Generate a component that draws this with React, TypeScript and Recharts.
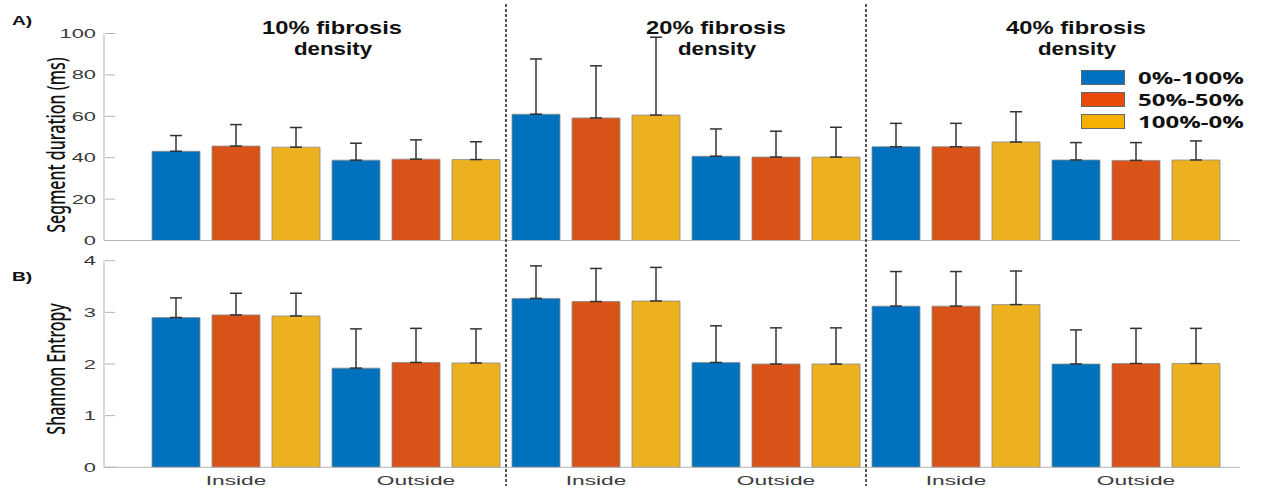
import React from 'react'
import { BarChart, Bar, XAxis, YAxis, ErrorBar, Legend } from 'recharts'

// categories: region x fibrosis density (10%, 20%, 40%)
const regions = ['Inside', 'Outside', 'Inside', 'Outside', 'Inside', 'Outside']
const densityTitles = ['10% fibrosis', '20% fibrosis', '40% fibrosis']
const seriesNames = ['0%-100%', '50%-50%', '100%-0%']

// A) segment duration (ms), mean and upper error
const durBlue = [43.1, 38.8, 61.0, 40.7, 45.3, 38.9]
const durOrange = [45.6, 39.3, 59.2, 40.3, 45.3, 38.7]
const durYellow = [45.1, 39.1, 60.6, 40.3, 47.6, 38.9]
const durErrBlue = [7.6, 8.2, 26.7, 13.2, 11.3, 8.4]
const durErrOrange = [10.4, 9.3, 25.2, 12.5, 11.3, 8.6]
const durErrYellow = [9.5, 8.6, 37.6, 14.4, 14.6, 9.2]

// B) Shannon entropy, mean and upper error
const entBlue = [2.9, 1.92, 3.27, 2.03, 3.12, 2.0]
const entOrange = [2.95, 2.03, 3.21, 2.0, 3.12, 2.01]
const entYellow = [2.93, 2.02, 3.22, 2.0, 3.15, 2.01]
const entErrBlue = [0.38, 0.76, 0.63, 0.71, 0.67, 0.66]
const entErrOrange = [0.42, 0.66, 0.64, 0.7, 0.67, 0.68]
const entErrYellow = [0.44, 0.66, 0.65, 0.7, 0.65, 0.68]

const durTicks = [0, 20, 40, 60, 80, 100]
const entTicks = [0, 1, 2, 3, 4]

const barColors = ['#0072BD', '#D95319', '#EDB120']
const legendColors = ['#0070C0', '#E84A0A', '#F5B000']

const durData = regions.map((region, i) => ({
  key: `${region}-${i}`,
  region,
  a: durBlue[i],
  b: durOrange[i],
  c: durYellow[i],
  ea: [0, durErrBlue[i]],
  eb: [0, durErrOrange[i]],
  ec: [0, durErrYellow[i]],
}))

const entData = regions.map((region, i) => ({
  key: `${region}-${i}`,
  region,
  a: entBlue[i],
  b: entOrange[i],
  c: entYellow[i],
  ea: [0, entErrBlue[i]],
  eb: [0, entErrOrange[i]],
  ec: [0, entErrYellow[i]],
}))

// layout
const W = 1261
const AXIS_W = 104
const MARGIN_R = 21
const PAD_L = 42
const PAD_R = 14
const BAND = (W - AXIS_W - MARGIN_R - PAD_L - PAD_R) / regions.length
const titleX = [332, 716, 1076]
const helv = "'Liberation Sans', Arial, Helvetica, sans-serif"

const YTick = (props: any) => {
  const { x, y, payload } = props
  return (
    <g>
      <line x1={x + 9} x2={x + 19} y1={y} y2={y} stroke="#b5b5b5" />
      <g transform={`translate(${x},${y}) scale(1.75,1)`}>
        <text textAnchor="end" dy="0.36em" fontSize={12.5} fill="#3a3a3a" fontFamily={helv}>
          {payload.value}
        </text>
      </g>
    </g>
  )
}

const XTick = (props: any) => {
  const { x, y, index } = props
  return (
    <g transform={`translate(${x},${y}) scale(1.75,1)`}>
      <text textAnchor="middle" dy="0.71em" fontSize={13} fill="#3a3a3a" fontFamily={helv}>
        {regions[index]}
      </text>
    </g>
  )
}

const LegendBox = ({ payload }: any) => (
  <div style={{ fontFamily: "'Open Sans', sans-serif", fontWeight: 700 }}>
    {(payload || []).map((entry: any) => (
      <div key={entry.value} style={{ display: 'flex', alignItems: 'center', height: 22 }}>
        <span
          style={{
            width: 44,
            height: 15,
            background: legendColors[seriesNames.indexOf(entry.value)],
            border: '1px solid #666',
            boxSizing: 'border-box',
            display: 'inline-block',
          }}
        />
        <span
          style={{
            marginLeft: 13,
            fontSize: 16,
            lineHeight: '22px',
            color: '#111',
            display: 'inline-block',
            transform: 'scaleX(1.5)',
            transformOrigin: 'left center',
            whiteSpace: 'nowrap',
          }}
        >
          {entry.value}
        </span>
      </div>
    ))}
  </div>
)

function bars(keys: string[], errKeys: string[]) {
  return keys.map((k, i) => (
    <Bar
      key={k}
      dataKey={k}
      name={seriesNames[i]}
      fill={barColors[i]}
      stroke="#8c8c8c"
      strokeWidth={0.8}
      barSize={48}
      isAnimationActive={false}
    >
      <ErrorBar dataKey={errKeys[i]} width={6} stroke="#333" strokeWidth={1.5} />
    </Bar>
  ))
}

export default function App() {
  const dividers = [1, 2].map(g => AXIS_W + PAD_L + BAND * 2 * g)
  return (
    <div style={{ position: 'absolute', left: 0, top: 0, width: W, height: 489, background: '#fff' }}>
      <div style={{ position: 'absolute', left: 0, top: 0 }}>
        <BarChart
          width={W}
          height={262}
          data={durData}
          barGap={12}
          margin={{ top: 33.5, right: MARGIN_R, left: 0, bottom: 0 }}
        >
          <XAxis
            dataKey="key"
            height={21.5}
            tick={false}
            tickLine={false}
            stroke="#b5b5b5"
            padding={{ left: PAD_L, right: PAD_R }}
          />
          <YAxis
            width={AXIS_W}
            domain={[0, 100]}
            ticks={durTicks}
            tick={<YTick />}
            tickLine={false}
            stroke="#b5b5b5"
          />
          <Legend
            layout="vertical"
            align="center"
            verticalAlign="middle"
            itemSorter={(item: any) => seriesNames.indexOf(item.value)}
            content={<LegendBox />}
            wrapperStyle={{ position: 'absolute', left: 1081, top: 66.5, width: 180 }}
          />
          {bars(['a', 'b', 'c'], ['ea', 'eb', 'ec'])}
        </BarChart>
      </div>
      <div style={{ position: 'absolute', left: 0, top: 245 }}>
        <BarChart
          width={W}
          height={244}
          data={entData}
          barGap={12}
          margin={{ top: 15.7, right: MARGIN_R, left: 0, bottom: 0 }}
        >
          <XAxis
            dataKey="key"
            height={21.7}
            tick={<XTick />}
            tickLine={false}
            stroke="#b5b5b5"
            padding={{ left: PAD_L, right: PAD_R }}
          />
          <YAxis
            width={AXIS_W}
            domain={[0, 4]}
            ticks={entTicks}
            tick={<YTick />}
            tickLine={false}
            stroke="#b5b5b5"
          />
          {bars(['a', 'b', 'c'], ['ea', 'eb', 'ec'])}
        </BarChart>
      </div>
      <svg
        width={W}
        height={489}
        style={{ position: 'absolute', left: 0, top: 0, pointerEvents: 'none' }}
      >
        {dividers.map((x, i) => (
          <line key={i} x1={x} x2={x} y1={4} y2={486} stroke="#222" strokeWidth={1.5} strokeDasharray="3 2" />
        ))}
        {densityTitles.map((t, i) => (
          <g key={t}>
            <g transform={`translate(${titleX[i]},34) scale(1.32,1)`}>
              <text textAnchor="middle" fontFamily={helv} fontWeight={700} fontSize={18} fill="#111">
                {t}
              </text>
            </g>
            <g transform={`translate(${titleX[i] + 1},55) scale(1.24,1)`}>
              <text textAnchor="middle" fontFamily={helv} fontWeight={700} fontSize={18} fill="#111">
                density
              </text>
            </g>
          </g>
        ))}
        <g transform="translate(12,25) scale(1.6,1)">
          <text fontFamily={helv} fontWeight={700} fontSize={12} fill="#111">A)</text>
        </g>
        <g transform="translate(12,281) scale(1.6,1)">
          <text fontFamily={helv} fontWeight={700} fontSize={12} fill="#111">B)</text>
        </g>
        <g transform="translate(56,145) scale(1.55,1) rotate(-90)">
          <text textAnchor="middle" dy="0.35em" fontFamily="'Noto Sans', sans-serif" fontWeight={500} fontSize={16} fill="#111">
            Segment duration (ms)
          </text>
        </g>
        <g transform="translate(56,369) scale(1.55,1) rotate(-90)">
          <text textAnchor="middle" dy="0.35em" fontFamily="'Noto Sans', sans-serif" fontWeight={500} fontSize={16} fill="#111">
            Shannon Entropy
          </text>
        </g>
      </svg>
    </div>
  )
}
